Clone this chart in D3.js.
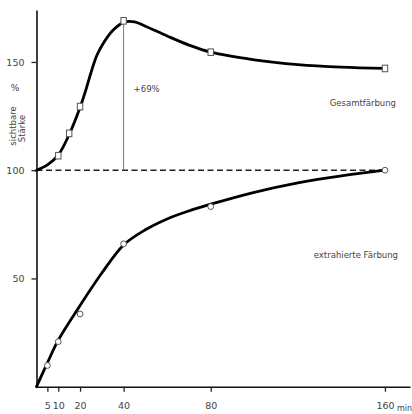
<!DOCTYPE html>
<html>
<head>
<meta charset="utf-8">
<script src="https://cdn.jsdelivr.net/npm/d3@7"></script>
<style>
  html, body { margin: 0; padding: 0; background: #fff; }
  text { font-family: "DejaVu Sans", sans-serif; fill: #444; }
</style>
</head>
<body>
<div id="chart"></div>
<script>
// Messpunkte Gesamtfärbung (Quadrate)
var gesamtMin = [10, 15, 20, 40, 80, 160];
var gesamtVal = [106.7, 117, 129.4, 169, 154.5, 147];
// Messpunkte extrahierte Färbung (Kreise)
var extraMin = [5, 10, 20, 40, 80, 160];
var extraVal = [9.8, 20.8, 33.6, 66, 83.2, 100];
// gezeichnete Ausgleichskurven
var gesamtKurveMin = [0, 5, 10, 15, 20, 22.5, 25, 27.5, 30, 35, 40, 45, 50, 60, 70, 80, 100, 120, 140, 160];
var gesamtKurveVal = [100, 102.5, 107, 116.5, 129, 136.5, 145, 152.5, 157.5, 164.5, 168.3, 168.5, 166.5, 162, 157.8, 154.5, 151, 148.8, 147.6, 147];
var extraKurveMin = [0, 5, 10, 20, 30, 40, 50, 60, 70, 80, 100, 120, 140, 160];
var extraKurveVal = [0, 11, 21.5, 37.5, 52.5, 65.5, 72.5, 77.5, 81.2, 84.3, 89.8, 94.2, 97.4, 100];
// Achsen
var xTicks = [5, 10, 20, 40, 80, 160];
var yTicks = [50, 100, 150];
var spitzeMin = 40, spitzeVal = 169, spitzeText = "+69%";

var w = 412, h = 414;
var svg = d3.select("#chart").append("svg").attr("width", w).attr("height", h);

var x = d3.scaleLinear().domain([0, 171.5]).range([36.5, 410]);
var y = d3.scaleLinear().domain([0, 174]).range([386.7, 10]);

// x-Achse
var xAxis = svg.append("g").attr("transform", "translate(0," + y(0) + ")")
  .call(d3.axisBottom(x).tickValues(xTicks).tickSize(5).tickSizeOuter(0).tickPadding(11));
xAxis.select(".domain").attr("stroke", "#111").attr("stroke-width", 1.6);
xAxis.selectAll(".tick line").attr("stroke", "#222").attr("stroke-width", 1.3);
xAxis.selectAll(".tick text").attr("font-size", 9.5).attr("font-family", "DejaVu Sans").attr("fill", "#444");
svg.append("text").attr("x", 397).attr("y", 411).attr("font-size", 8).text("min");

// y-Achse
var yAxis = svg.append("g").attr("transform", "translate(" + x(0) + ",0)")
  .call(d3.axisLeft(y).tickValues(yTicks).tickSize(5).tickSizeOuter(0).tickPadding(7));
yAxis.select(".domain").attr("stroke", "#111").attr("stroke-width", 1.6);
yAxis.selectAll(".tick line").attr("stroke", "#222").attr("stroke-width", 1.3);
yAxis.selectAll(".tick text").attr("font-size", 9.5).attr("font-family", "DejaVu Sans").attr("fill", "#444");

// Achsenbeschriftung
svg.append("text").attr("x", 15).attr("y", 91).attr("font-size", 9).attr("text-anchor", "middle").text("%");
svg.append("text").attr("transform", "translate(16,126) rotate(-90)")
  .attr("font-size", 8.5).attr("text-anchor", "middle").text("sichtbare");
svg.append("text").attr("transform", "translate(24.5,128.5) rotate(-90)")
  .attr("font-size", 8.5).attr("text-anchor", "middle").text("Stärke");

// 100%-Linie gestrichelt
svg.append("line")
  .attr("x1", x(0)).attr("x2", x(160)).attr("y1", y(100)).attr("y2", y(100))
  .attr("stroke", "#222").attr("stroke-width", 1.4).attr("stroke-dasharray", "6,3.5");

// senkrechte Linie zur Spitze
svg.append("line")
  .attr("x1", x(spitzeMin)).attr("x2", x(spitzeMin)).attr("y1", y(spitzeVal)).attr("y2", y(100))
  .attr("stroke", "#777").attr("stroke-width", 1);
svg.append("text").attr("x", x(spitzeMin) + 10).attr("y", 92).attr("font-size", 8.5).text(spitzeText);

// Kurven
var line = d3.line()
  .x(function(d) { return x(d[0]); })
  .y(function(d) { return y(d[1]); })
  .curve(d3.curveCatmullRom.alpha(0.5));

svg.append("path").datum(d3.zip(gesamtKurveMin, gesamtKurveVal))
  .attr("d", line).attr("fill", "none").attr("stroke", "#000").attr("stroke-width", 2.8)
  .attr("stroke-linecap", "round");
svg.append("path").datum(d3.zip(extraKurveMin, extraKurveVal))
  .attr("d", line).attr("fill", "none").attr("stroke", "#000").attr("stroke-width", 2.8)
  .attr("stroke-linecap", "round");

// Quadrate
svg.selectAll("rect.q").data(d3.zip(gesamtMin, gesamtVal)).enter().append("rect")
  .attr("class", "q")
  .attr("x", function(d) { return x(d[0]) - 2.7; })
  .attr("y", function(d) { return y(d[1]) - 3.3; })
  .attr("width", 5.4).attr("height", 6.6)
  .attr("fill", "#fff").attr("stroke", "#555").attr("stroke-width", 1);

// Kreise
svg.selectAll("circle.k").data(d3.zip(extraMin, extraVal)).enter().append("circle")
  .attr("class", "k")
  .attr("cx", function(d) { return x(d[0]); })
  .attr("cy", function(d) { return y(d[1]); })
  .attr("r", 2.9)
  .attr("fill", "#fff").attr("stroke", "#555").attr("stroke-width", 1);

// Kurvenbeschriftung
svg.append("text").attr("x", 396).attr("y", 106).attr("font-size", 8.5).attr("text-anchor", "end").text("Gesamtfärbung");
svg.append("text").attr("x", 398).attr("y", 258).attr("font-size", 8.5).attr("text-anchor", "end").text("extrahierte Färbung");
</script>
</body>
</html>
